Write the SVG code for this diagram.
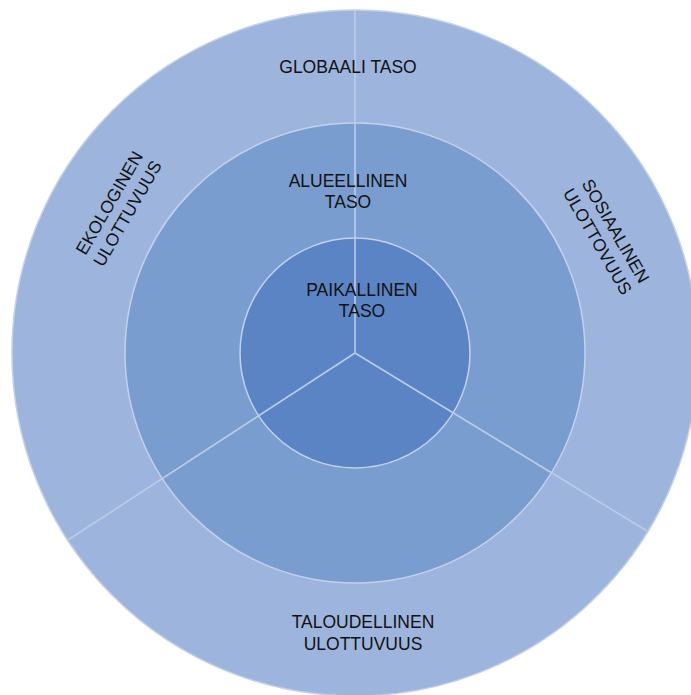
<svg xmlns="http://www.w3.org/2000/svg" width="691" height="695" viewBox="0 0 691 695">
<style>
.ring{stroke:#C3D1EA;stroke-width:1.5}
.outer{fill:#9DB5DC}
.mid{fill:#7A9DCF}
.inner{fill:#5A84C4}
.lbl{font-family:"Liberation Sans",Arial,sans-serif;font-size:17.5px;fill:#111;text-anchor:middle}
.div{stroke:#BCCCE8;stroke-width:1.6;fill:none}
</style>
<rect width="691" height="695" fill="#fff"/>
<g id="globaali">
<circle class="ring outer" cx="355" cy="353" r="343"/>
</g>
<g id="alueellinen">
<circle class="ring mid" cx="355" cy="353" r="230"/>
</g>
<g id="paikallinen">
<circle class="ring inner" cx="355" cy="353" r="115"/>
</g>
<g id="connectors">
<line class="div" x1="355" y1="353" x2="355" y2="10"/>
<line class="div" x1="355" y1="353" x2="647" y2="531"/>
<line class="div" x1="355" y1="353" x2="68" y2="540"/>
</g>
<g id="globaali-label">
<text class="lbl" x="348" y="73">GLOBAALI TASO</text>
</g>
<g id="alueellinen-label">
<text class="lbl" x="348" y="187">ALUEELLINEN</text>
<text class="lbl" x="348" y="208">TASO</text>
</g>
<g id="paikallinen-label">
<text class="lbl" x="362" y="296">PAIKALLINEN</text>
<text class="lbl" x="362" y="317">TASO</text>
</g>
<g id="ekologinen" transform="translate(118,208) rotate(-60)">
<text class="lbl" x="0" y="-4">EKOLOGINEN</text>
<text class="lbl" x="0" y="17">ULOTTUVUUS</text>
</g>
<g id="sosiaalinen" transform="translate(607,236) rotate(60)">
<text class="lbl" x="0" y="-4">SOSIAALINEN</text>
<text class="lbl" x="0" y="17">ULOTTOVUUS</text>
</g>
<g id="taloudellinen">
<text class="lbl" x="363" y="628">TALOUDELLINEN</text>
<text class="lbl" x="363" y="650">ULOTTUVUUS</text>
</g>
</svg>
